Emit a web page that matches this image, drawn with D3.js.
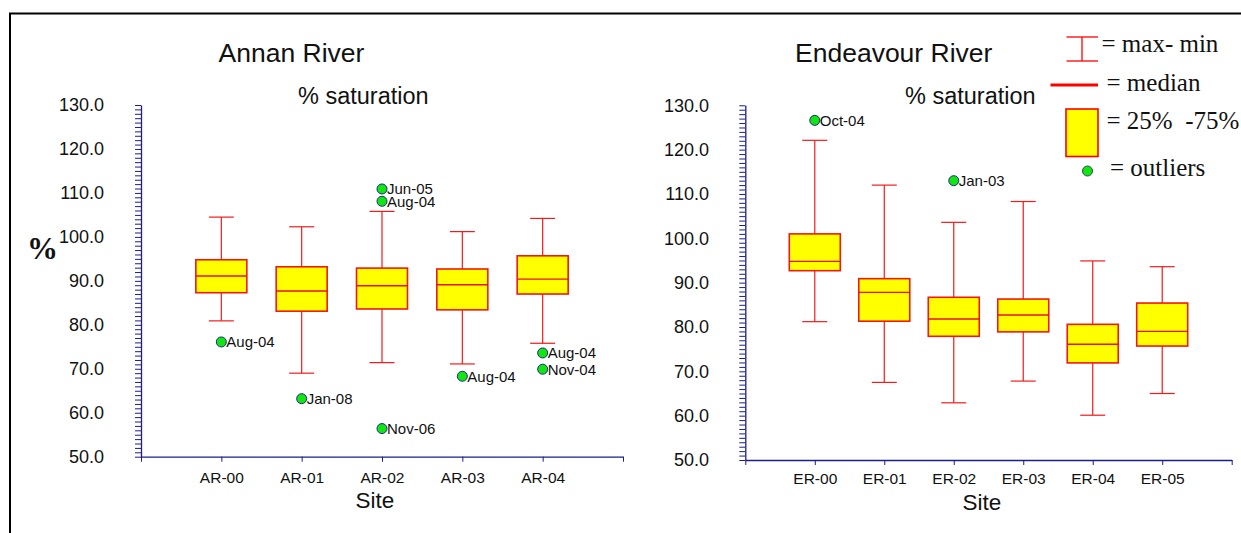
<!DOCTYPE html>
<html>
<head>
<meta charset="utf-8">
<script src="https://cdnjs.cloudflare.com/ajax/libs/d3/7.8.5/d3.min.js"></script>
<style>
  body { margin: 0; background: #fff; }
  svg { display: block; }
</style>
</head>
<body>
<div id="chart"></div>
<script>
// ---- data ----
var annanSites   = ["AR-00", "AR-01", "AR-02", "AR-03", "AR-04"];
var annanMax     = [104.5, 102.3, 105.8, 101.2, 104.2];
var annanQ3      = [94.8, 93.2, 92.9, 92.7, 95.7];
var annanMedian  = [91.1, 87.7, 88.9, 89.1, 90.4];
var annanQ1      = [87.3, 83.1, 83.6, 83.4, 87.0];
var annanMin     = [80.9, 69.0, 71.4, 71.1, 75.8];
var annanOutSite  = ["AR-00", "AR-01", "AR-02", "AR-02", "AR-02", "AR-03", "AR-04", "AR-04"];
var annanOutValue = [76.1, 63.2, 110.9, 108.1, 56.4, 68.3, 73.6, 69.9];
var annanOutLabel = ["Aug-04", "Jan-08", "Jun-05", "Aug-04", "Nov-06", "Aug-04", "Aug-04", "Nov-04"];

var endSites   = ["ER-00", "ER-01", "ER-02", "ER-03", "ER-04", "ER-05"];
var endMax     = [122.1, 112.0, 103.6, 108.3, 94.9, 93.6];
var endQ3      = [101.0, 90.9, 86.7, 86.3, 80.6, 85.4];
var endMedian  = [94.8, 87.8, 81.8, 82.7, 76.1, 79.0];
var endQ1      = [92.7, 81.3, 77.9, 78.9, 71.9, 75.7];
var endMin     = [81.2, 67.5, 62.9, 67.8, 60.1, 65.0];
var endOutSite  = ["ER-00", "ER-02"];
var endOutValue = [126.6, 113.0];
var endOutLabel = ["Oct-04", "Jan-03"];

var yMajorTicks = [50, 60, 70, 80, 90, 100, 110, 120, 130];

var W = 1241, H = 533;
var sans = "'Liberation Sans', Arial, sans-serif";
var serif = "'Liberation Serif', 'Times New Roman', serif";
var axisColor = "#1c1c8c";

var svg = d3.select("#chart").append("svg")
  .attr("width", W).attr("height", H);

// outer frame (right / bottom edges run off the picture)
svg.append("rect")
  .attr("x", 10).attr("y", 13.5)
  .attr("width", 1400).attr("height", 700)
  .attr("fill", "none").attr("stroke", "#000").attr("stroke-width", 2);

function drawPanel(cfg) {
  var g = svg.append("g");
  var n = cfg.sites.length;

  var x = d3.scaleLinear().domain([0, n + 1]).range(cfg.xRange);
  var y = d3.scaleLinear().domain([50, 130]).range(cfg.yRange);
  var pos = function(site) { return x(cfg.sites.indexOf(site) + 1); };

  // y axis: minor ticks every 1 unit
  g.append("g")
    .attr("transform", "translate(" + cfg.xRange[0] + ",0)")
    .call(d3.axisLeft(y).tickValues(d3.range(50, 131, 1)).tickFormat("").tickSize(6).tickSizeOuter(0))
    .call(function(a) {
      a.selectAll("line").attr("stroke", axisColor);
      a.select(".domain").attr("stroke", axisColor).attr("stroke-width", 1.3);
    });

  // y axis labels
  g.append("g")
    .attr("transform", "translate(" + cfg.xRange[0] + ",0)")
    .call(d3.axisLeft(y).tickValues(yMajorTicks).tickFormat(d3.format(".1f")).tickSize(0).tickPadding(cfg.yPad))
    .call(function(a) {
      a.select(".domain").remove();
      a.selectAll("text").attr("font-family", sans).attr("font-size", 18).attr("fill", "#111");
    });

  // x axis
  g.append("g")
    .attr("transform", "translate(0," + cfg.yRange[0] + ")")
    .call(d3.axisBottom(x).tickValues(d3.range(0, n + 2)).tickSize(5).tickSizeOuter(0).tickPadding(cfg.xPad)
      .tickFormat(function(d) { return (d >= 1 && d <= n) ? cfg.sites[d - 1] : ""; }))
    .call(function(a) {
      a.selectAll("line").attr("stroke", axisColor);
      a.select(".domain").attr("stroke", axisColor).attr("stroke-width", 1.3);
      a.selectAll("text").attr("font-family", sans).attr("font-size", 15.5).attr("fill", "#111");
    });

  var boxW = 51, capW = 25;
  var stats = cfg.sites.map(function(s, i) {
    return { site: s, max: cfg.max[i], q3: cfg.q3[i], med: cfg.median[i], q1: cfg.q1[i], min: cfg.min[i] };
  });

  var b = g.selectAll(".box").data(stats).enter().append("g").attr("class", "box");
  b.append("line")
    .attr("x1", function(d) { return pos(d.site); }).attr("x2", function(d) { return pos(d.site); })
    .attr("y1", function(d) { return y(d.max); }).attr("y2", function(d) { return y(d.min); })
    .attr("stroke", "#f21b1b").attr("stroke-width", 1.2);
  b.append("line")
    .attr("x1", function(d) { return pos(d.site) - capW / 2; }).attr("x2", function(d) { return pos(d.site) + capW / 2; })
    .attr("y1", function(d) { return y(d.max); }).attr("y2", function(d) { return y(d.max); })
    .attr("stroke", "#f21b1b").attr("stroke-width", 1.2);
  b.append("line")
    .attr("x1", function(d) { return pos(d.site) - capW / 2; }).attr("x2", function(d) { return pos(d.site) + capW / 2; })
    .attr("y1", function(d) { return y(d.min); }).attr("y2", function(d) { return y(d.min); })
    .attr("stroke", "#f21b1b").attr("stroke-width", 1.2);
  b.append("rect")
    .attr("x", function(d) { return pos(d.site) - boxW / 2; })
    .attr("y", function(d) { return y(d.q3); })
    .attr("width", boxW)
    .attr("height", function(d) { return y(d.q1) - y(d.q3); })
    .attr("fill", "#ffff00").attr("stroke", "#f01818").attr("stroke-width", 1.6);
  b.append("line")
    .attr("x1", function(d) { return pos(d.site) - boxW / 2; }).attr("x2", function(d) { return pos(d.site) + boxW / 2; })
    .attr("y1", function(d) { return y(d.med); }).attr("y2", function(d) { return y(d.med); })
    .attr("stroke", "#e81010").attr("stroke-width", 1.4);

  // outliers
  var outs = cfg.outSite.map(function(s, i) { return { site: s, v: cfg.outValue[i], label: cfg.outLabel[i] }; });
  var o = g.selectAll(".out").data(outs).enter().append("g").attr("class", "out");
  o.append("circle")
    .attr("cx", function(d) { return pos(d.site); })
    .attr("cy", function(d) { return y(d.v); })
    .attr("r", 5)
    .attr("fill", "#11e611").attr("stroke", "#1a2a8a").attr("stroke-width", 1);
  o.append("text")
    .attr("x", function(d) { return pos(d.site) + 5; })
    .attr("y", function(d) { return y(d.v) + 5.5; })
    .attr("font-family", sans).attr("font-size", 15).attr("fill", "#111")
    .text(function(d) { return d.label; });

  // titles
  g.append("text").attr("x", cfg.titleX).attr("y", 61.5)
    .attr("font-family", sans).attr("font-size", 26.5).attr("fill", "#111").text(cfg.title);
  g.append("text").attr("x", cfg.subX).attr("y", 104)
    .attr("font-family", sans).attr("font-size", 23.5).attr("fill", "#111").text("% saturation");
  g.append("text").attr("x", cfg.siteX).attr("y", cfg.siteY).attr("text-anchor", "middle")
    .attr("font-family", sans).attr("font-size", 22.5).attr("fill", "#111").text("Site");
}

drawPanel({
  sites: annanSites, max: annanMax, q3: annanQ3, median: annanMedian, q1: annanQ1, min: annanMin,
  outSite: annanOutSite, outValue: annanOutValue, outLabel: annanOutLabel,
  xRange: [141, 623], yRange: [456.7, 105], yPad: 37, xPad: 10.6,
  title: "Annan River", titleX: 218.5, subX: 298, siteX: 375, siteY: 507.5
});

drawPanel({
  sites: endSites, max: endMax, q3: endQ3, median: endMedian, q1: endQ1, min: endMin,
  outSite: endOutSite, outValue: endOutValue, outLabel: endOutLabel,
  xRange: [745.3, 1231.7], yRange: [460, 105.3], yPad: 36.3, xPad: 8.3,
  title: "Endeavour River", titleX: 795, subX: 905, siteX: 982, siteY: 510
});

// big "%" y label on the left panel
svg.append("text").attr("x", 27).attr("y", 258.5)
  .attr("font-family", serif).attr("font-weight", "bold").attr("font-size", 31)
  .attr("fill", "#111").text("%");

// ---- legend ----
var lg = svg.append("g");
lg.append("line").attr("x1", 1082).attr("x2", 1082).attr("y1", 37).attr("y2", 61)
  .attr("stroke", "red").attr("stroke-width", 1.3);
lg.append("line").attr("x1", 1066.5).attr("x2", 1098).attr("y1", 37).attr("y2", 37)
  .attr("stroke", "red").attr("stroke-width", 1.3);
lg.append("line").attr("x1", 1066.5).attr("x2", 1098).attr("y1", 61).attr("y2", 61)
  .attr("stroke", "red").attr("stroke-width", 1.3);
lg.append("line").attr("x1", 1050.5).attr("x2", 1098).attr("y1", 85).attr("y2", 85)
  .attr("stroke", "red").attr("stroke-width", 3);
lg.append("rect").attr("x", 1066).attr("y", 109).attr("width", 32).attr("height", 47.5)
  .attr("fill", "#ffff00").attr("stroke", "red").attr("stroke-width", 1.6);
lg.append("circle").attr("cx", 1087.5).attr("cy", 171).attr("r", 5)
  .attr("fill", "#11e611").attr("stroke", "#2a4a4a").attr("stroke-width", 1);

var legendText = [
  { x: 1101.5, y: 51.5, t: "= max- min" },
  { x: 1106.5, y: 90.5, t: "= median" },
  { x: 1106.5, y: 128.5, t: "= 25%  -75%" },
  { x: 1110, y: 175.5, t: "= outliers" }
];
lg.selectAll(".lt").data(legendText).enter().append("text")
  .attr("x", function(d) { return d.x; }).attr("y", function(d) { return d.y; })
  .attr("font-family", serif).attr("font-size", 25).attr("fill", "#111")
  .style("white-space", "pre")
  .text(function(d) { return d.t; });
</script>
</body>
</html>
